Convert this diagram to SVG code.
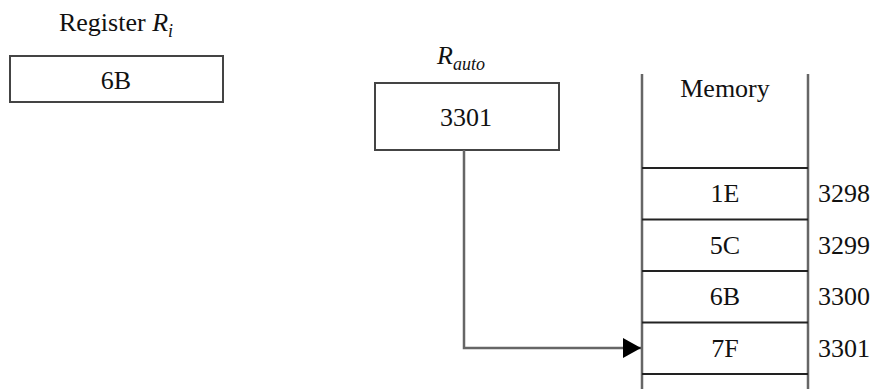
<svg xmlns="http://www.w3.org/2000/svg" width="878" height="389" viewBox="0 0 878 389">
  <style>
    text { font-family: "Liberation Serif", "Times New Roman", serif; font-size: 26px; fill: #111; }
    .c { text-anchor: middle; }
    .it { font-style: italic; }
    .sub { font-size: 18px; font-style: italic; }
    .box { fill: #fff; stroke: #444; stroke-width: 2; }
    .col { stroke: #666; stroke-width: 2.5; fill: none; }
    .row { stroke: #222; stroke-width: 2; fill: none; }
    .wire { stroke: #666; stroke-width: 2.5; fill: none; }
  </style>
  <defs>
    <marker id="head" viewBox="0 0 18 20" refX="18" refY="10" markerWidth="18" markerHeight="20" markerUnits="userSpaceOnUse" orient="auto">
      <path d="M0,0 L18,10 L0,20 Z" fill="#000"/>
    </marker>
  </defs>

  <!-- general register holding the loaded value -->
  <g id="register-ri">
    <text x="116" y="31" class="c">Register <tspan class="it">R</tspan><tspan class="sub" dy="6">i</tspan></text>
    <rect class="box" x="10" y="56" width="213" height="46"/>
    <text x="116" y="89" class="c">6B</text>
  </g>

  <!-- auto-increment address register -->
  <g id="register-rauto">
    <text x="461" y="64" class="c"><tspan class="it">R</tspan><tspan class="sub" dy="6">auto</tspan></text>
    <rect class="box" x="375" y="83" width="184" height="67"/>
    <text x="466" y="126" class="c">3301</text>
  </g>

  <!-- memory column with cells and addresses -->
  <g id="memory">
    <line class="col" x1="642" y1="74" x2="642" y2="389"/>
    <line class="col" x1="808" y1="74" x2="808" y2="389"/>
    <text x="725" y="97" class="c">Memory</text>
    <line class="row" x1="642" y1="168" x2="808" y2="168"/>
    <line class="row" x1="642" y1="219.5" x2="808" y2="219.5"/>
    <line class="row" x1="642" y1="271" x2="808" y2="271"/>
    <line class="row" x1="642" y1="322.5" x2="808" y2="322.5"/>
    <line class="row" x1="642" y1="374" x2="808" y2="374"/>
  </g>
  <g id="cell-3298">
    <text x="725" y="202" class="c">1E</text>
    <text x="818" y="202">3298</text>
  </g>
  <g id="cell-3299">
    <text x="725" y="253.5" class="c">5C</text>
    <text x="818" y="253.5">3299</text>
  </g>
  <g id="cell-3300">
    <text x="725" y="305" class="c">6B</text>
    <text x="818" y="305">3300</text>
  </g>
  <g id="cell-3301">
    <text x="725" y="356.5" class="c">7F</text>
    <text x="818" y="356.5">3301</text>
  </g>

  <!-- pointer from R_auto to the addressed cell -->
  <g id="connectors">
    <path class="wire" d="M464,150 V348 H641" marker-end="url(#head)"/>
  </g>
</svg>
